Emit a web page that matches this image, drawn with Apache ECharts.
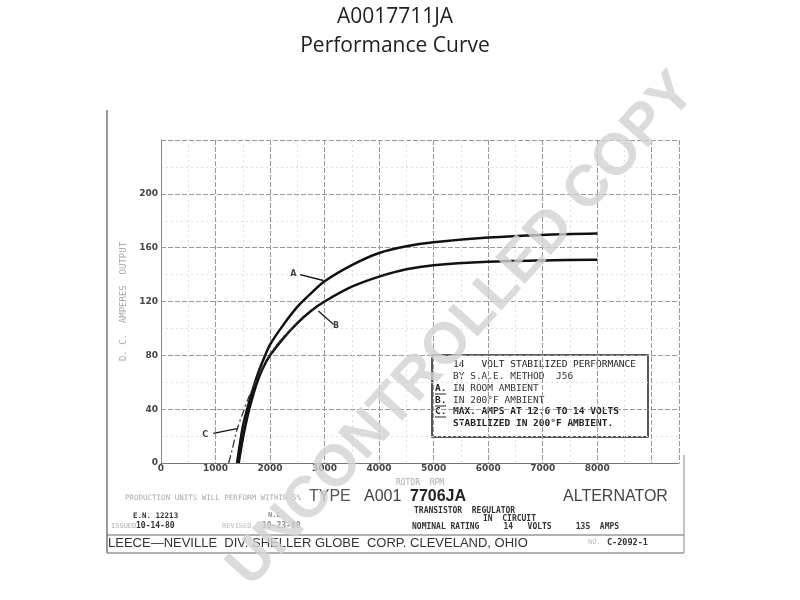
<!DOCTYPE html>
<html><head><meta charset="utf-8">
<script src="https://cdn.jsdelivr.net/npm/echarts@6/dist/echarts.min.js"></script>
<style>html,body{margin:0;padding:0;background:#fff}#c{width:800px;height:600px}</style>
</head><body><div id="c"></div>
<script>
// Curve A: 14 V in room ambient
const rpmA  = [1395, 1500, 1600, 1700, 1800, 1900, 2000, 2250, 2500, 2750, 3000, 3500, 4000, 4500, 5000, 6000, 7000, 8000];
const ampsA = [0,    27,   43,   57,   69,   79,   88,   103,  116,  126,  135,  147,  156,  161,  164,  167.5, 169.5, 170.5];
// Curve B: 14 V in 200°F ambient
const rpmB  = [1425, 1510, 1600, 1700, 1800, 1900, 2000, 2250, 2500, 2750, 3000, 3500, 4000, 4500, 5000, 6000, 7000, 8000];
const ampsB = [0,    20,   37,   52,   64,   73,   80,   93,   104,  113,  120,  131,  138.5, 144, 147,  149.5, 150.5, 151];
// Curve C: max amps at 12.6 to 14 V, 200°F ambient (dashed)
const rpmC  = [1240, 1300, 1395, 1500, 1600, 1800, 2000, 2250, 2500];
const ampsC = [0,    9,    25,   37,   48,   66,   81,   94,   104];
// Tick labels
const yTicks = [0, 40, 80, 120, 160, 200];
const xTicks = [0, 1000, 2000, 3000, 4000, 5000, 6000, 7000, 8000];
// Curve labels and their pointers
const curveLabels = [['A', 2428, 140.5], ['B', 3211, 102], ['C', 810, 21]];
const pointers = [[[2550, 140], [2978, 135.6]], [[2887, 113], [3162, 103]], [[960, 22], [1395, 25.5]]];

const pairs = (xs, ys) => xs.map((x, i) => [x, ys[i]]);
const mono = "'DejaVu Sans Mono', monospace";

const chart = echarts.init(document.getElementById('c'));
chart.setOption({
  animation: false,
  backgroundColor: '#fff',
  title: {
    text: 'A0017711JA\nPerformance Curve',
    left: 390, top: -2, textAlign: 'center',
    textStyle: { fontFamily: "'Open Sans', sans-serif", fontSize: 21, fontWeight: 'normal', color: '#222', lineHeight: 29 }
  },
  grid: { left: 161, right: 121, top: 140, bottom: 137 },
  xAxis: {
    type: 'value', min: 0, max: 9500, interval: 1000,
    axisLine: { lineStyle: { color: '#777', width: 1 } },
    axisTick: { show: false },
    axisLabel: { margin: 1, color: '#444', fontFamily: "'DejaVu Sans', sans-serif", fontWeight: 'bold', fontSize: 9,
      formatter: v => xTicks.includes(v) ? String(v) : '' },
    splitLine: { show: true, lineStyle: { color: '#999', width: 1, type: [5, 2] } },
    minorTick: { show: false, splitNumber: 2 },
    minorSplitLine: { show: true, lineStyle: { color: '#e0e0e0', width: 1, type: [2, 3] } },
    name: 'ROTOR  RPM', nameLocation: 'middle', nameGap: 16,
    nameTextStyle: { color: '#aaa', fontSize: 8, fontFamily: mono }
  },
  yAxis: {
    type: 'value', min: 0, max: 240, interval: 40,
    axisLine: { show: true, lineStyle: { color: '#888', width: 1 } },
    axisTick: { show: false },
    axisLabel: { margin: 3, color: '#444', fontFamily: "'DejaVu Sans', sans-serif", fontWeight: 'bold', fontSize: 9,
      formatter: v => yTicks.includes(v) ? String(v) : '' },
    splitLine: { show: true, lineStyle: { color: '#999', width: 1, type: [5, 2] } },
    minorTick: { show: false, splitNumber: 2 },
    minorSplitLine: { show: true, lineStyle: { color: '#e0e0e0', width: 1, type: [2, 3] } },
    name: 'D. C.  AMPERES  OUTPUT', nameLocation: 'middle', nameGap: 30, nameRotate: 90,
    nameTextStyle: { color: '#aaa', fontSize: 9, fontFamily: mono }
  },
  series: [
    { name: 'A', type: 'line', data: pairs(rpmA, ampsA), smooth: 0.3, showSymbol: false,
      lineStyle: { color: '#111', width: 2.5 } },
    { name: 'B', type: 'line', data: pairs(rpmB, ampsB), smooth: 0.3, showSymbol: false,
      lineStyle: { color: '#111', width: 2.5 } },
    { name: 'C', type: 'line', data: pairs(rpmC, ampsC), smooth: 0.3, showSymbol: false,
      lineStyle: { color: '#333', width: 1.3, type: [8, 3, 2, 3] } },
    { type: 'scatter', symbolSize: 0, silent: true,
      data: curveLabels.map(l => ({ name: l[0], value: [l[1], l[2]] })),
      label: { show: true, position: 'inside', formatter: '{b}', color: '#111', fontSize: 8, fontWeight: 'bold', fontFamily: "'DejaVu Sans', sans-serif" },
      markLine: { silent: true, symbol: ['none', 'none'], label: { show: false },
        lineStyle: { color: '#111', width: 1.3, type: 'solid' },
        data: pointers.map(p => [{ coord: p[0] }, { coord: p[1] }]) }
    }
  ],
  graphic: [
    // page frame
    { type: 'line', shape: { x1: 107, y1: 110, x2: 107, y2: 553 }, style: { stroke: '#777', lineWidth: 1.5 } },
    { type: 'line', shape: { x1: 107, y1: 535, x2: 684, y2: 535 }, style: { stroke: '#666', lineWidth: 1 } },
    { type: 'line', shape: { x1: 107, y1: 553, x2: 684, y2: 553 }, style: { stroke: '#666', lineWidth: 1.2 } },
    { type: 'line', shape: { x1: 684, y1: 455, x2: 684, y2: 553 }, style: { stroke: '#888', lineWidth: 1 } },
    // legend box
    { type: 'rect', shape: { x: 432, y: 355, width: 216, height: 82 }, style: { fill: '#fff', stroke: '#222', lineWidth: 1.5 } },
    { type: 'text', left: 453, top: 360, style: { text: '14   VOLT STABILIZED PERFORMANCE', font: "9.5px 'DejaVu Sans Mono'", fill: '#222' } },
    { type: 'text', left: 453, top: 372, style: { text: 'BY S.A.E. METHOD  J56', font: "9.5px 'DejaVu Sans Mono'", fill: '#333' } },
    { type: 'text', left: 435, top: 384, style: { text: 'A.', font: "bold 9.5px 'DejaVu Sans Mono'", fill: '#222' } },
    { type: 'line', shape: { x1: 435, y1: 394, x2: 446, y2: 394 }, style: { stroke: '#222', lineWidth: 1 } },
    { type: 'text', left: 453, top: 384, style: { text: 'IN ROOM AMBIENT', font: "9.5px 'DejaVu Sans Mono'", fill: '#333' } },
    { type: 'text', left: 435, top: 396, style: { text: 'B.', font: "bold 9.5px 'DejaVu Sans Mono'", fill: '#222' } },
    { type: 'line', shape: { x1: 435, y1: 406, x2: 446, y2: 406 }, style: { stroke: '#222', lineWidth: 1 } },
    { type: 'text', left: 453, top: 396, style: { text: 'IN 200°F AMBIENT', font: "9.5px 'DejaVu Sans Mono'", fill: '#333' } },
    { type: 'text', left: 435, top: 407, style: { text: 'C.', font: "bold 9.5px 'DejaVu Sans Mono'", fill: '#222' } },
    { type: 'line', shape: { x1: 435, y1: 417, x2: 446, y2: 417 }, style: { stroke: '#222', lineWidth: 1 } },
    { type: 'text', left: 453, top: 407, style: { text: 'MAX. AMPS AT 12.6 TO 14 VOLTS', font: "bold 9.5px 'DejaVu Sans Mono'", fill: '#222' } },
    { type: 'text', left: 453, top: 419, style: { text: 'STABILIZED IN 200°F AMBIENT.', font: "bold 9.5px 'DejaVu Sans Mono'", fill: '#222' } },
    // title block
    { type: 'text', left: 125, top: 494, style: { text: 'PRODUCTION UNITS WILL PERFORM WITHIN 5%', font: "7.5px 'DejaVu Sans Mono'", fill: '#aaa' } },
    { type: 'text', left: 309, top: 489, style: { text: 'TYPE', font: "16px 'Liberation Sans', sans-serif", fill: '#555' } },
    { type: 'text', left: 364, top: 489, style: { text: 'A001', font: "16px 'Liberation Sans', sans-serif", fill: '#444' } },
    { type: 'text', left: 410, top: 489, style: { text: '7706JA', font: "bold 16px 'Liberation Sans', sans-serif", fill: '#222' } },
    { type: 'text', left: 563, top: 489, style: { text: 'ALTERNATOR', font: "16px 'Liberation Sans', sans-serif", fill: '#444' } },
    { type: 'text', left: 414, top: 507, style: { text: 'TRANSISTOR  REGULATOR', font: "bold 8px 'DejaVu Sans Mono'", fill: '#333' } },
    { type: 'text', left: 483, top: 515, style: { text: 'IN  CIRCUIT', font: "bold 8px 'DejaVu Sans Mono'", fill: '#333' } },
    { type: 'text', left: 412, top: 523, style: { text: 'NOMINAL RATING     14   VOLTS     135  AMPS', font: "bold 8px 'DejaVu Sans Mono'", fill: '#333' } },
    { type: 'text', left: 133, top: 512, style: { text: 'E.N. 12213', font: "bold 7.5px 'DejaVu Sans Mono'", fill: '#333' } },
    { type: 'text', left: 111, top: 523, style: { text: 'ISSUED', font: "7px 'DejaVu Sans Mono'", fill: '#aaa' } },
    { type: 'text', left: 136, top: 522, style: { text: '10-14-80', font: "bold 8px 'DejaVu Sans Mono'", fill: '#333' } },
    { type: 'text', left: 222, top: 523, style: { text: 'REVISED', font: "7px 'DejaVu Sans Mono'", fill: '#bbb' } },
    { type: 'text', left: 268, top: 512, style: { text: 'N.L.', font: "bold 7px 'DejaVu Sans Mono'", fill: '#888' } },
    { type: 'text', left: 262, top: 522, style: { text: '10-23-80', font: "bold 8px 'DejaVu Sans Mono'", fill: '#888' } },
    { type: 'text', left: 108, top: 537, style: { text: 'LEECE—NEVILLE  DIV. SHELLER GLOBE  CORP. CLEVELAND, OHIO', fontSize: 13, fontFamily: "'Liberation Sans', sans-serif", fill: '#333' } },
    { type: 'text', left: 588, top: 539, style: { text: 'NO.', font: "7px 'DejaVu Sans Mono'", fill: '#bbb' } },
    { type: 'text', left: 607, top: 538, style: { text: 'C-2092-1', font: "bold 8.5px 'DejaVu Sans Mono'", fill: '#333' } },
    // watermark
    { type: 'text', x: 462, y: 330, rotation: 48 * Math.PI / 180, z: 100, silent: true,
      style: { text: 'UNCONTROLLED COPY', font: "bold 58px 'Liberation Sans', sans-serif", fill: 'rgba(210,210,210,0.8)', align: 'center', verticalAlign: 'middle' } }
  ]
});
</script></body></html>
